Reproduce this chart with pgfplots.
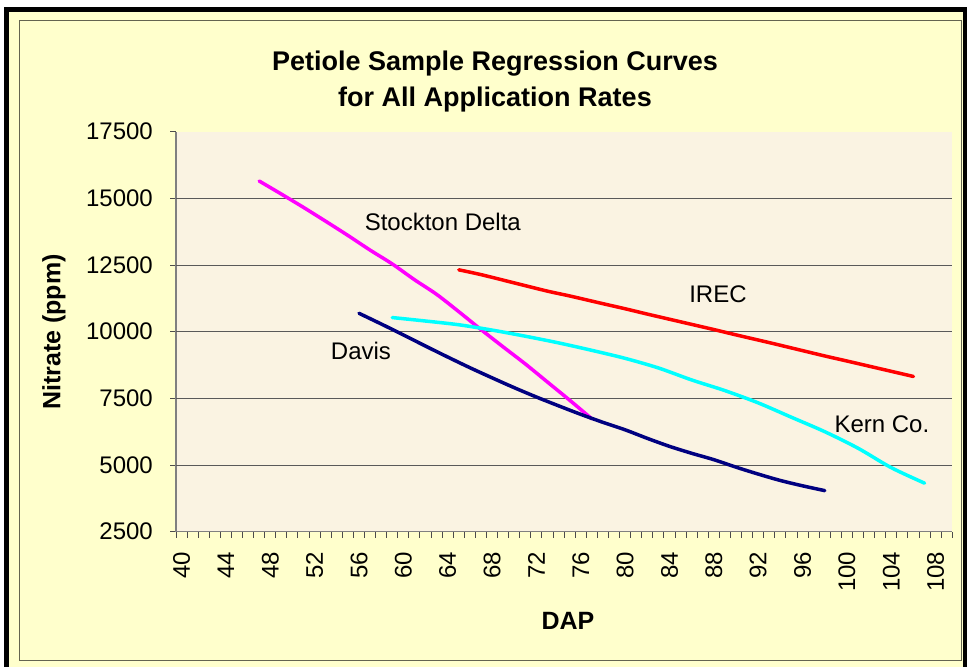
\documentclass[border=0pt]{standalone}
\usepackage{pgfplots}
\pgfplotsset{compat=1.18}
\usepackage{fontspec}
\setmainfont{Liberation Sans}
\definecolor{chartbg}{RGB}{255,255,204}
\definecolor{plotbg}{RGB}{250,243,226}
\definecolor{framegray}{RGB}{100,100,80}
\definecolor{navyline}{RGB}{0,0,128}
\definecolor{magline}{RGB}{255,0,255}
\definecolor{cyanline}{RGB}{0,255,255}
\definecolor{redline}{RGB}{255,0,0}
\definecolor{axgray}{RGB}{128,128,128}
\begin{document}
\begin{tikzpicture}[x=1bp,y=1bp]
\useasboundingbox (0,0) rectangle (967,667);
\fill[white] (0,0) rectangle (967,667);
\fill[chartbg] (5,0) rectangle (967,660);
\fill[black] (4,0) rectangle (9,660);
\fill[black] (4,655) rectangle (967,660);
\fill[black] (963,0) rectangle (967,660);
\draw[framegray, line width=1bp] (19,6.3) rectangle (961,646);
\node[font=\bfseries\fontsize{27bp}{27bp}\selectfont, anchor=base] at (495,596) {Petiole Sample Regression Curves};
\node[font=\bfseries\fontsize{27bp}{27bp}\selectfont, anchor=base] at (495,560) {for All Application Rates};
\node[font=\bfseries\fontsize{25bp}{25bp}\selectfont, rotate=90] at (54,335) {Nitrate (ppm)};
\node[font=\bfseries\fontsize{25bp}{25bp}\selectfont] at (568,46) {DAP};
\begin{axis}[
  at={(176bp,135.3bp)}, anchor=south west,
  scale only axis, width=776.3bp, height=400bp,
  xmin=39.5, xmax=109.5, ymin=2500, ymax=17500,
  axis x line*=bottom, axis y line*=left,
  axis line style={draw=axgray, line width=1.2bp, -},
  axis background/.style={fill=plotbg},
  xtick={39.5,40.5,...,109.5}, xticklabels={},
  extra x ticks={40,44,...,108},
  extra x tick style={major tick length=0pt},
  ytick={2500,5000,...,17500},
  extra y ticks={5000,7500,10000,12500,15000},
  extra y tick labels={},
  extra y tick style={grid=major, major tick length=0pt},
  grid style={draw=black!65, line width=0.9bp},
  tick align=outside, major tick length=6bp,
  tick style={draw=black!70, line width=1bp},
  scaled y ticks=false,
  /pgf/number format/1000 sep={},
  /pgf/number format/assume math mode=true,
  yticklabel style={font=\fontsize{24bp}{24bp}\selectfont, inner sep=0pt, xshift=-17bp},
  xticklabel style={font=\fontsize{24bp}{24bp}\selectfont, rotate=90, anchor=east, inner sep=0pt},
  xticklabel shift=20bp,
  clip=false,
  every axis plot/.append style={line width=3.5bp, line join=round, line cap=round, no markers, smooth},
]
% Stockton Delta
\addplot[color=magline] coordinates {
(47,15650) (49,15160) (51,14660) (53,14140) (55,13610) (57,13060) (59,12540)
(61,11950) (63,11400) (65,10750) (67,10080) (69,9430) (71,8790) (73,8110)
(75,7430) (77,6730)};
% IREC
\addplot[color=redline] coordinates {
(65,12320) (67,12140) (70,11830) (73,11520) (75,11340) (78,11050) (80,10860)
(82,10660) (85,10370) (88,10080) (90,9880) (93,9590) (95,9390) (98,9090)
(100,8900) (103,8610) (106,8320)};
% Kern Co.
\addplot[color=cyanline] coordinates {
(59,10530) (62,10400) (65,10260) (68,10060) (71,9830) (74,9580) (77,9300)
(80,9000) (83,8640) (86,8190) (89,7790) (92,7330) (95,6790) (98,6250)
(101,5630) (104,4900) (107,4320)};
% Davis
\addplot[color=navyline] coordinates {
(56,10690) (58,10290) (60,9880) (62,9460) (64,9050) (66,8650) (68,8270)
(70,7900) (72,7550) (74,7220) (76,6900) (78,6600) (80,6320) (82,6000)
(84,5700) (86,5440) (88,5200) (90,4920) (92,4660) (94,4420) (96,4220) (98,4040)};
\node[font=\fontsize{24bp}{24bp}\selectfont] at (axis cs:63.56,14114) {Stockton Delta};
\node[font=\fontsize{24bp}{24bp}\selectfont] at (axis cs:88.37,11414) {IREC};
\node[font=\fontsize{24bp}{24bp}\selectfont] at (axis cs:56.18,9276) {Davis};
\node[font=\fontsize{24bp}{24bp}\selectfont] at (axis cs:103.15,6539) {Kern Co.};
\end{axis}
\end{tikzpicture}
\end{document}
